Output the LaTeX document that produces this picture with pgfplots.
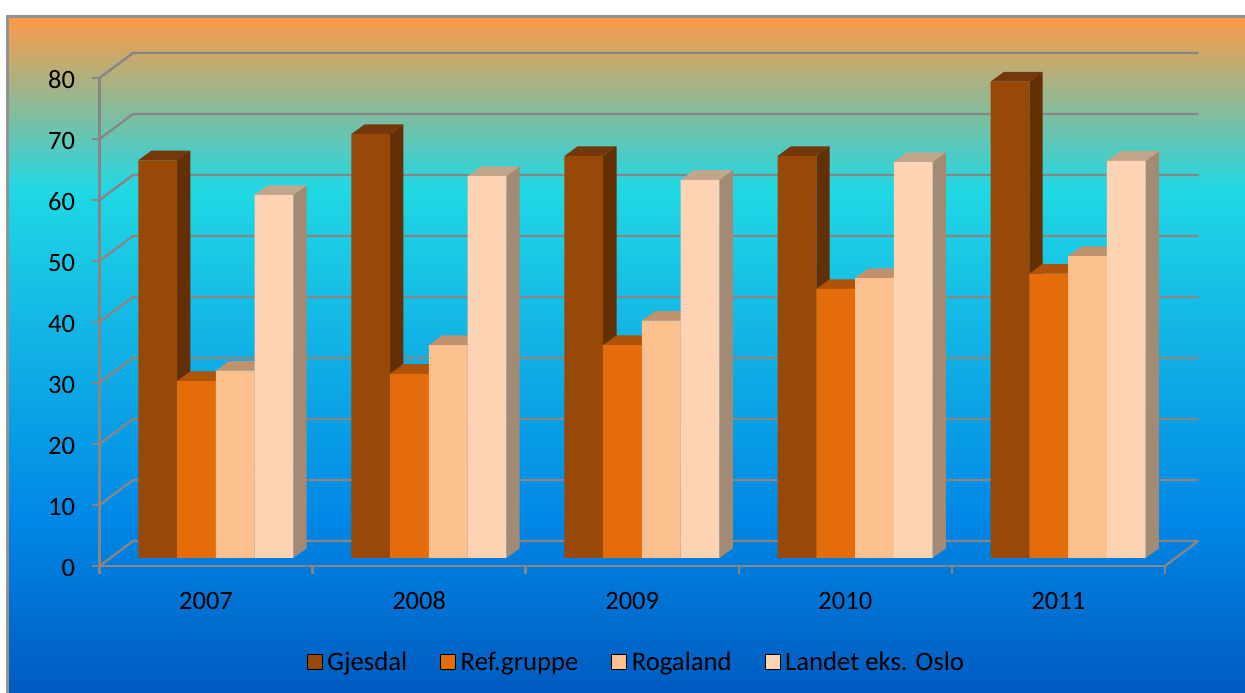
\documentclass[border=0pt]{standalone}
\usepackage{fontspec}
\setmainfont{Carlito}
\usepackage{pgfplots}
\usepackage{pgfplotstable}
\pgfplotsset{compat=1.18}
\definecolor{gA}{HTML}{984807}\definecolor{sA}{HTML}{632F04}\definecolor{tA}{HTML}{74380A}
\definecolor{gB}{HTML}{E46C0A}\definecolor{sB}{HTML}{954707}\definecolor{tB}{HTML}{AE5308}
\definecolor{gC}{HTML}{FCC08F}\definecolor{sC}{HTML}{A57E5E}\definecolor{tC}{HTML}{BF926D}
\definecolor{gD}{HTML}{FDD3B3}\definecolor{sD}{HTML}{A38A75}\definecolor{tD}{HTML}{C3A58C}
\definecolor{gridc}{HTML}{868686}
\definecolor{b0}{HTML}{005BBF}\definecolor{b1}{HTML}{0088E6}\definecolor{b2}{HTML}{20D8E4}\definecolor{b3}{HTML}{FF9A45}
% a shaded path covers the band from 25bp to 75bp of the shading
\pgfdeclareverticalshading{bgshade}{100bp}{color(0bp)=(b0);color(25bp)=(b0);color(38bp)=(b1);color(62.2bp)=(b2);color(75bp)=(b3);color(100bp)=(b3)}
\pgfplotstableread{
x v
0.5 65.2
1.5 69.5
2.5 65.9
3.5 65.9
4.5 78.1
}\tGjesdal
\pgfplotstableread{
x v
0.5 29.0
1.5 30.2
2.5 34.9
3.5 44.1
4.5 46.6
}\tRef
\pgfplotstableread{
x v
0.5 30.7
1.5 34.9
2.5 38.9
3.5 45.9
4.5 49.5
}\tRogaland
\pgfplotstableread{
x v
0.5 59.5
1.5 62.6
2.5 62.0
3.5 64.9
4.5 65.1
}\tLandet
% one series: table, slot, front, side, top colours, bar shift in pt
\newcommand\Series[6]{%
  \pgfplotsinvokeforeach{0,1,2,3,4}{%
    \pgfplotstablegetelem{##1}{v}\of{#1}%
    \let\val\pgfplotsretval
    \pgfmathsetmacro\xl{##1+0.5+(#2-2)*0.18184}%
    \pgfmathsetmacro\xr{\xl+0.18184}%
    \pgfmathsetmacro\xld{\xl+0.0624}%
    \pgfmathsetmacro\xrd{\xr+0.0624}%
    \pgfmathsetmacro\vd{\val+1.59}%
    \addplot[fill=#4,draw=none,forget plot] coordinates {(\xr,0)(\xrd,1.59)(\xrd,\vd)(\xr,\val)} --cycle;
    \addplot[fill=#5,draw=none,forget plot] coordinates {(\xl,\val)(\xld,\vd)(\xrd,\vd)(\xr,\val)} --cycle;
  }%
  \addplot[ybar,bar width=38.75pt,bar shift=#6pt,fill=#3,draw=none,forget plot] table[x=x,y=v]{#1};
}
\newcommand\Wall[1]{%
  \addplot[gridc,line width=2.4pt,forget plot] coordinates {(0,#1)(0.1572,#1+4.1)(5.1572,#1+4.1)};
}
\begin{document}
\begin{tikzpicture}
\useasboundingbox (0,0) rectangle (1245pt,693pt);
\fill[white] (0,0) rectangle (1245pt,693pt);
\shade[shading=bgshade] (7pt,0pt) rectangle (1245pt,677pt);
\draw[color=gridc!90!white,line width=2.6pt] (7.2pt,0pt) -- (7.2pt,676.5pt) -- (1245pt,676.5pt);
\begin{axis}[
  at={(99.5pt,127pt)},anchor=south west,
  scale only axis,width=1065.5pt,height=488pt,
  xmin=0,xmax=5,ymin=0,ymax=80,clip=false,
  axis x line*=bottom,axis y line*=left,
  axis line style={gridc,line width=2.4pt,-},
  xtick={0,1,2,3,4,5},xticklabels={2007,2008,2009,2010,2011},
  x tick label as interval=true,
  ytick={0,10,...,80},
  tick align=outside,major tick length=8pt,
  tick style={gridc,line width=2.4pt},
  /pgf/number format/assume math mode=true,
  tick label style={font=\fontsize{26.5}{30}\selectfont,text=black},
  yticklabel style={xshift=-13pt,yshift=-1.5pt},
  xticklabel style={yshift=-14.5pt,text height=17pt,text depth=0pt},
  legend columns=4,
  legend style={at={(axis description cs:0.1948,-0.1967)},anchor=west,draw=none,fill=none,
    inner sep=0pt,outer sep=0pt,font=\fontsize{26.7}{31}\selectfont,
    /tikz/every even column/.append style={column sep=31pt},
    /tikz/every odd column/.append style={column sep=3pt}},
  legend image code/.code={\fill[#1] (0pt,-7.5pt) rectangle (15pt,7.5pt);},
]
\Wall{0}\Wall{10}\Wall{20}\Wall{30}\Wall{40}\Wall{50}\Wall{60}\Wall{70}\Wall{80}
\addplot[gridc,line width=2.4pt,forget plot] coordinates {(5,0)(5.1572,4.1)};
\addlegendimage{fill=gA}\addlegendentry{Gjesdal}
\addlegendimage{fill=gB}\addlegendentry{Ref.gruppe}
\addlegendimage{fill=gC}\addlegendentry{Rogaland}
\addlegendimage{fill=gD}\addlegendentry{Landet eks. Oslo}
\end{axis}
\begin{axis}[
  at={(109.25pt,135pt)},anchor=south west,
  scale only axis,width=1065.5pt,height=488pt,
  xmin=0,xmax=5,ymin=0,ymax=80,clip=false,hide axis,
]
\Series{\tGjesdal}{0}{gA}{sA}{tA}{-58.125}
\Series{\tRef}{1}{gB}{sB}{tB}{-19.375}
\Series{\tRogaland}{2}{gC}{sC}{tC}{19.375}
\Series{\tLandet}{3}{gD}{sD}{tD}{58.125}
\end{axis}
\end{tikzpicture}
\end{document}
